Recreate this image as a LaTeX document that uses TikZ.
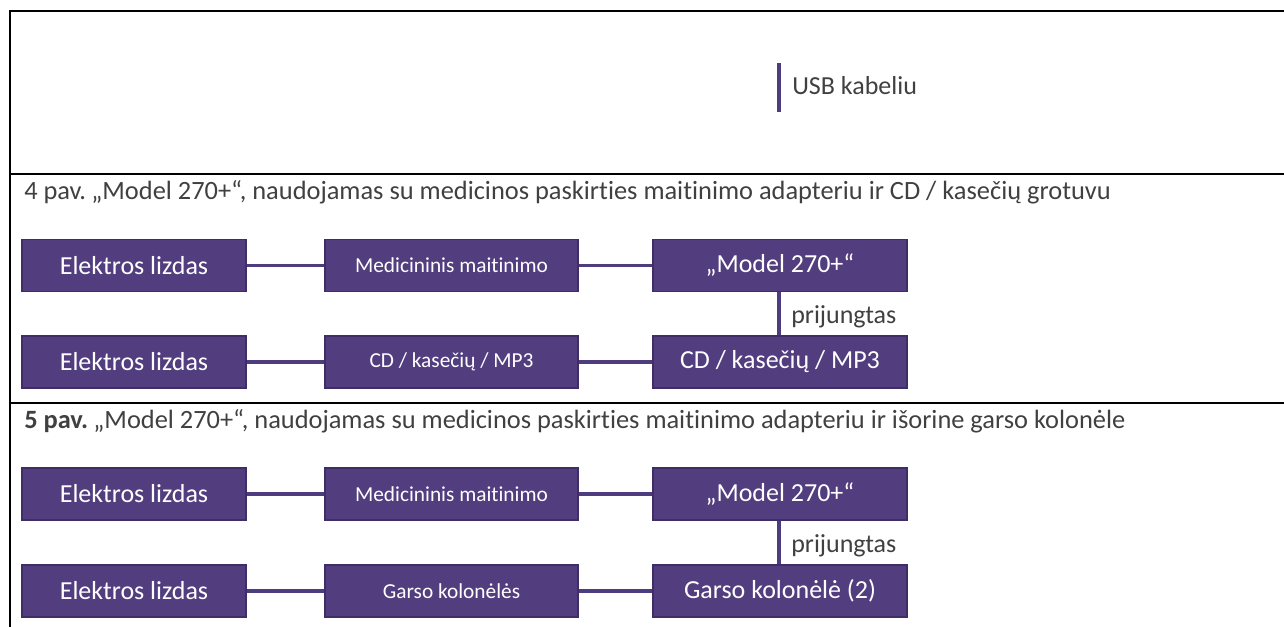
\documentclass[tikz,border=0pt]{standalone}
\usepackage{fontspec}
\setmainfont{Carlito}[Ligatures={NoCommon,NoContextual}]
\definecolor{boxfill}{HTML}{523E7F}
\definecolor{boxedge}{HTML}{3F2D66}
\definecolor{conn}{HTML}{4E3B80}
\definecolor{txtgray}{HTML}{404040}
\tikzset{
  bigbox/.style={rectangle, fill=boxfill, draw=boxedge, line width=1.3pt, text=white,
    minimum height=39pt, inner sep=0pt, font=\fontsize{19.5}{22}\selectfont},
  smallbox/.style={bigbox, font=\fontsize{16}{19}\selectfont},
  wleft/.style={minimum width=168pt},
  wmid/.style={minimum width=189.75pt},
  wright/.style={minimum width=190.5pt},
  conline/.style={draw=conn, line width=2.5pt},
  frameline/.style={draw=black, line width=2pt},
  caption/.style={anchor=base west, inner sep=0pt, text=txtgray, font=\fontsize{19.8}{23}\selectfont},
  side/.style={anchor=base west, inner sep=0pt, text=txtgray, font=\fontsize{19.5}{22}\selectfont}
}
\begin{document}
\begin{tikzpicture}[x=0.75pt, y=-0.75pt]
\useasboundingbox (0,0) rectangle (1284,626);
% frame
\coordinate (tl) at (10,11);
\coordinate (tr) at (1284,11);
\coordinate (bl) at (10,626);
\coordinate (s1l) at (10,174);
\coordinate (s1r) at (1284,174);
\coordinate (s2l) at (10,403);
\coordinate (s2r) at (1284,403);
\draw[frameline, line cap=rect] (tr) -- (tl) -- (bl);
\draw[frameline] (s1l) -- (s1r);
\draw[frameline] (s2l) -- (s2r);
% top section
\coordinate (usbtop) at (779,63);
\coordinate (usbbot) at (779,112);
\draw[conline] (usbtop) -- (usbbot);
\node[side] (usb) at (792,94) {USB kabeliu};
% section 4
\node[caption] (cap4) at (24,199) {4 pav.\kern-2pt{} „Model 270+“, naudojamas su medicinos paskirties maitinimo adapteriu ir CD / kasečių grotuvu};
\node[bigbox, wleft] (a1) at (134,265.5) {Elektros lizdas};
\node[smallbox, wmid] (a2) at (451.5,265.5) {Medicininis maitinimo};
\node[bigbox, wright] (a3) at (780,265.5) {„Model 270+“};
\node[bigbox, wleft] (b1) at (134,362) {Elektros lizdas};
\node[smallbox, wmid] (b2) at (451.5,362) {CD / kasečių / MP3};
\node[bigbox, wright] (b3) at (780,362) {CD / kasečių / MP3};
\draw[conline] (a1.east) -- (a2.west);
\draw[conline] (a2.east) -- (a3.west);
\draw[conline] (b1.east) -- (b2.west);
\draw[conline] (b2.east) -- (b3.west);
\draw[conline] (a3.south -| 779,0) -- (b3.north -| 779,0);
\node[side] (p4) at (791,323) {prijungtas};
% section 5
\node[caption] (cap5) at (24,428) {\textbf{5 pav.}\kern-2pt{} „Model 270+“, naudojamas su medicinos paskirties maitinimo adapteriu ir išorine garso kolonėle};
\node[bigbox, wleft] (c1) at (134,494) {Elektros lizdas};
\node[smallbox, wmid] (c2) at (451.5,494) {Medicininis maitinimo};
\node[bigbox, wright] (c3) at (780,494) {„Model 270+“};
\node[bigbox, wleft] (d1) at (134,591) {Elektros lizdas};
\node[smallbox, wmid] (d2) at (451.5,591) {Garso kolonėlės};
\node[bigbox, wright] (d3) at (780,591) {Garso kolonėlė (2)};
\draw[conline] (c1.east) -- (c2.west);
\draw[conline] (c2.east) -- (c3.west);
\draw[conline] (d1.east) -- (d2.west);
\draw[conline] (d2.east) -- (d3.west);
\draw[conline] (c3.south -| 779,0) -- (d3.north -| 779,0);
\node[side] (p5) at (791,552) {prijungtas};
\end{tikzpicture}
\end{document}
